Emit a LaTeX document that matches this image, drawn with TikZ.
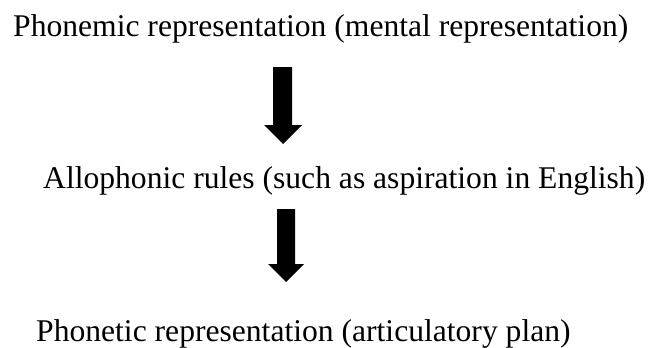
\documentclass[tikz,border=0pt]{standalone}
\usepackage{fontspec}
\setmainfont{Liberation Serif}
\begin{document}
\begin{tikzpicture}[x=1pt,y=-1pt,
  label/.style={anchor=base west,inner sep=0pt,font=\fontsize{31.6}{38}\selectfont},
  blockarrow/.style={fill=black,draw=none}]
\useasboundingbox (0,0) rectangle (657,348);
\node[label] (phonemic) at (13,36) {Phonemic representation (mental representation)};
\node[label] (allo) at (43,188) {Allophonic rules (such as aspiration in English)};
\node[label] (phonetic) at (36,341) {Phonetic representation (articulatory plan)};
\fill[blockarrow] (273,67) -- (292,67) -- (292,125) -- (302,125) -- (283,144) -- (264,125) -- (273,125) -- cycle;
\fill[blockarrow] (277,209) -- (295,209) -- (295,264) -- (304,264) -- (286,282) -- (268,264) -- (277,264) -- cycle;
\end{tikzpicture}
\end{document}
